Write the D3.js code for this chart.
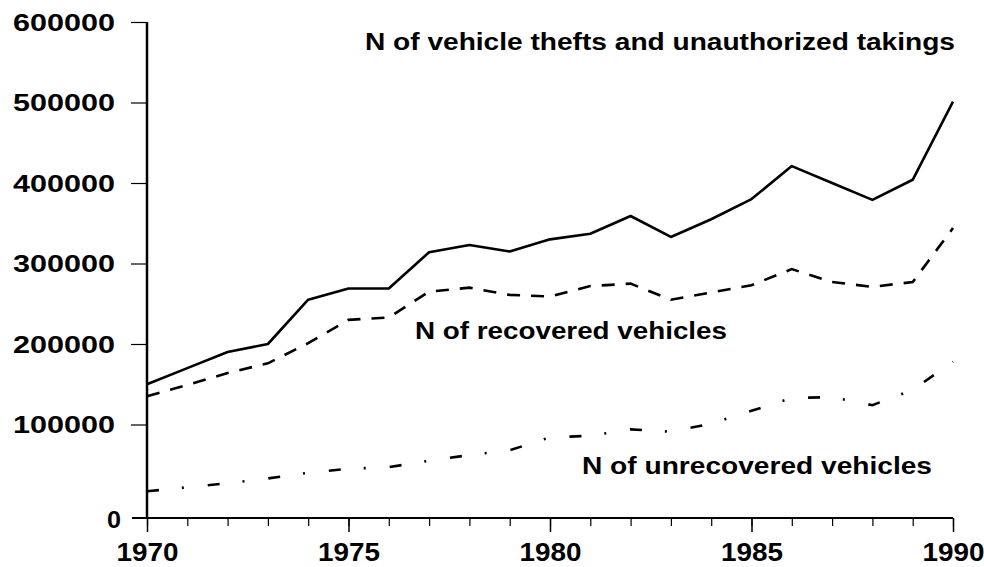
<!DOCTYPE html>
<html>
<head>
<meta charset="utf-8">
<script src="https://cdn.jsdelivr.net/npm/d3@7"></script>
<style>
  body { margin: 0; background: #fff; }
  text { font-family: "Liberation Sans", Arial, sans-serif; fill: #000; }
</style>
</head>
<body>
<svg id="chart" width="984" height="567"></svg>
<script>
// Data
var years = [1970, 1971, 1972, 1973, 1974, 1975, 1976, 1977, 1978, 1979, 1980,
             1981, 1982, 1983, 1984, 1985, 1986, 1987, 1988, 1989, 1990];
var thefts = [150000, 170000, 190000, 200000, 255000, 269000, 269000, 314000, 323000, 315000, 330000,
              337000, 359000, 333000, 355000, 380000, 421000, 400000, 379000, 404000, 501000];
var recovered = [135000, 149000, 164000, 176000, 201000, 230000, 233000, 265000, 270000, 261000, 259000,
                 272000, 275000, 255000, 264000, 273000, 293000, 277000, 271000, 277000, 344000];
var unrecovered = [17000, 22000, 27000, 33000, 40000, 45000, 47000, 55000, 62000, 68000, 84000,
                   86000, 94000, 91000, 101000, 117000, 133000, 134000, 124000, 143000, 178000];
var yTicks = [100000, 200000, 300000, 400000, 500000, 600000];
var xTicks = [1970, 1975, 1980, 1985, 1990];

var svg = d3.select("#chart");

// Scales
var x = d3.scaleLinear().domain([1970, 1990]).range([147, 953]);
var y = d3.scaleLinear().domain([0, 600000]).range([505, 22]);
var axisY = 518;

// Y axis
var yAxis = svg.append("g")
    .attr("transform", "translate(147,0)")
    .call(d3.axisLeft(y).tickValues(yTicks).tickSize(16).tickSizeOuter(0).tickFormat(d3.format("d")));
yAxis.select(".domain").remove();
yAxis.selectAll(".tick line").attr("stroke", "#000").attr("stroke-width", 1.2);
yAxis.selectAll(".tick text")
    .attr("x", -32)
    .attr("dy", "0.36em")
    .style("font-size", "23px")
    .style("font-weight", "bold")
    .attr("textLength", 102)
    .attr("lengthAdjust", "spacingAndGlyphs");

svg.append("line")
    .attr("x1", 147).attr("x2", 147)
    .attr("y1", y(600000)).attr("y2", axisY)
    .attr("stroke", "#000").attr("stroke-width", 2.5);

// Zero label sits on the x axis line
svg.append("text")
    .attr("x", 121).attr("y", axisY + 2)
    .attr("dy", "0.36em")
    .attr("text-anchor", "end")
    .style("font-size", "23px")
    .style("font-weight", "bold")
    .attr("textLength", 14)
    .attr("lengthAdjust", "spacingAndGlyphs")
    .text("0");

// X axis: minor ticks every year, major every five
var xMinor = svg.append("g")
    .attr("transform", "translate(0," + axisY + ")")
    .call(d3.axisBottom(x).tickValues(years).tickSize(8).tickSizeOuter(0).tickFormat(""));
xMinor.select(".domain").remove();
xMinor.selectAll(".tick line").attr("stroke", "#000").attr("stroke-width", 1.2);

var xAxis = svg.append("g")
    .attr("transform", "translate(0," + axisY + ")")
    .call(d3.axisBottom(x).tickValues(xTicks).tickSize(14).tickSizeOuter(0).tickFormat(d3.format("d")));
xAxis.select(".domain").remove();
xAxis.selectAll(".tick line").attr("stroke", "#000").attr("stroke-width", 1.5);
xAxis.selectAll(".tick text")
    .attr("y", 25)
    .attr("dy", "0.71em")
    .style("font-size", "25px")
    .style("font-weight", "bold")
    .attr("textLength", 62)
    .attr("lengthAdjust", "spacingAndGlyphs");

svg.append("line")
    .attr("x1", 132).attr("x2", x(1990))
    .attr("y1", axisY).attr("y2", axisY)
    .attr("stroke", "#000").attr("stroke-width", 1.8);

// Lines
var line = d3.line()
    .x(function (d, i) { return x(years[i]); })
    .y(function (d) { return y(d); });

svg.append("path")
    .datum(thefts)
    .attr("d", line)
    .attr("fill", "none")
    .attr("stroke", "#000")
    .attr("stroke-width", 2.6)
    .attr("stroke-linejoin", "round");

svg.append("path")
    .datum(recovered)
    .attr("d", line)
    .attr("fill", "none")
    .attr("stroke", "#000")
    .attr("stroke-width", 2.6)
    .attr("stroke-dasharray", "13,11");

svg.append("path")
    .datum(unrecovered)
    .attr("d", line)
    .attr("fill", "none")
    .attr("stroke", "#000")
    .attr("stroke-width", 2.6)
    .attr("stroke-dasharray", "12,23,2,24");

// Annotations
var labels = [
  {text: "N of vehicle thefts and unauthorized takings", x: 365, y: 50, w: 590},
  {text: "N of recovered vehicles", x: 415, y: 339, w: 312},
  {text: "N of unrecovered vehicles", x: 582, y: 474, w: 350}
];
svg.selectAll(".note")
    .data(labels)
    .enter().append("text")
    .attr("class", "note")
    .attr("x", function (d) { return d.x; })
    .attr("y", function (d) { return d.y; })
    .style("font-size", "23px")
    .style("font-weight", "bold")
    .attr("textLength", function (d) { return d.w; })
    .attr("lengthAdjust", "spacingAndGlyphs")
    .text(function (d) { return d.text; });
</script>
</body>
</html>
